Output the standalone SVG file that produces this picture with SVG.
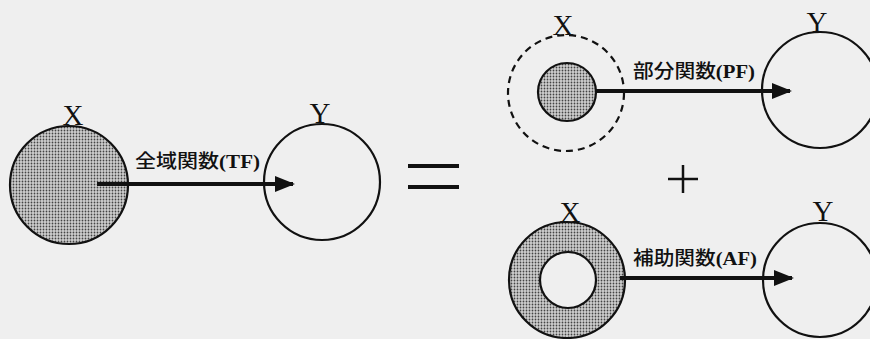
<svg xmlns="http://www.w3.org/2000/svg" width="870" height="339" viewBox="0 0 870 339">
<defs>
<pattern id="dots" width="3" height="3" patternUnits="userSpaceOnUse">
<rect width="3" height="3" fill="#d0d0d0"/>
<circle cx="1.5" cy="1.5" r="0.9" fill="#444"/>
</pattern>
<marker id="arr" viewBox="0 0 10 8" refX="9" refY="4" markerWidth="5" markerHeight="4" orient="auto" markerUnits="strokeWidth">
<path d="M0,0 L10,4 L0,8 z" fill="#111"/>
</marker>
<style>
.c{fill:none;stroke:#111;stroke-width:2.2}
.f{fill:url(#dots);stroke:#111;stroke-width:2.2}
.h{fill:#efefef;stroke:#111;stroke-width:2.2}
.d{fill:none;stroke:#111;stroke-width:2.2;stroke-dasharray:7 5}
.lt{font-family:"Liberation Serif",serif;font-size:29px;fill:#111;text-anchor:middle}
.lb{font-family:"Noto Sans CJK JP",sans-serif;font-size:19px;fill:#111;font-weight:500}
.lb tspan{font-family:"Liberation Serif",serif;font-weight:bold}
.ar{stroke:#111;stroke-width:4;fill:none;marker-end:url(#arr)}
.op{stroke:#111;stroke-width:4;fill:none}
</style>
</defs>
<rect width="870" height="339" fill="#efefef"/>
<g id="left-x">
<circle class="f" cx="69" cy="185" r="59"/>
<text class="lt" x="73" y="125">X</text>
</g>
<g id="left-y">
<circle class="c" cx="322" cy="182" r="58"/>
<text class="lt" x="320" y="123">Y</text>
</g>
<g id="equals">
<line class="op" x1="408" y1="166" x2="459" y2="166"/>
<line class="op" x1="408" y1="187" x2="459" y2="187"/>
</g>
<g id="plus">
<line x1="668" y1="179" x2="698" y2="179" stroke="#111" stroke-width="2.5"/>
<line x1="683" y1="165" x2="683" y2="193" stroke="#111" stroke-width="2.5"/>
</g>
<g id="pf-x">
<circle class="d" cx="566" cy="93" r="58"/>
<circle class="f" cx="567" cy="92" r="29"/>
<text class="lt" x="563" y="35">X</text>
</g>
<g id="pf-y">
<circle class="c" cx="820" cy="90" r="58"/>
<text class="lt" x="817" y="32">Y</text>
</g>
<g id="af-x">
<circle class="f" cx="567" cy="280" r="58"/>
<circle class="h" cx="568" cy="280" r="28"/>
<text class="lt" x="570" y="222">X</text>
</g>
<g id="af-y">
<circle class="c" cx="820" cy="280" r="57"/>
<text class="lt" x="823" y="221">Y</text>
</g>
<g id="connectors">
<line class="ar" x1="97" y1="184" x2="293" y2="184"/>
<text class="lb" x="135" y="168" textLength="125" lengthAdjust="spacingAndGlyphs">全域関数<tspan>(TF)</tspan></text>
<line class="ar" x1="595" y1="91" x2="790" y2="91"/>
<text class="lb" x="633" y="78" textLength="122" lengthAdjust="spacingAndGlyphs">部分関数<tspan>(PF)</tspan></text>
<line class="ar" x1="620" y1="278" x2="792" y2="278"/>
<text class="lb" x="633" y="265" textLength="124" lengthAdjust="spacingAndGlyphs">補助関数<tspan>(AF)</tspan></text>
</g>
</svg>
